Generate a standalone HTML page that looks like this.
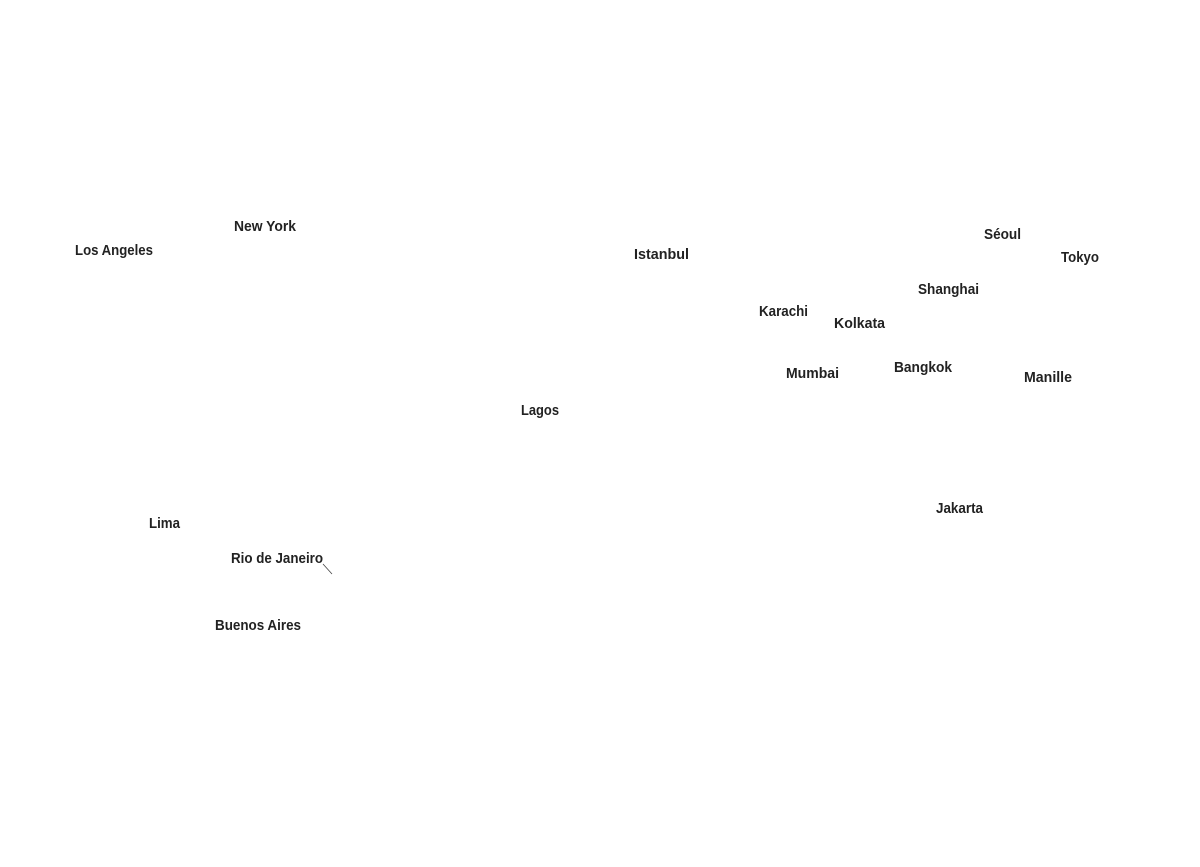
<!DOCTYPE html>
<html><head><meta charset="utf-8"><style>
html,body{margin:0;padding:0;background:#fff;}
svg{display:block;}
text{font-family:"Liberation Sans",sans-serif;font-weight:bold;font-size:15px;fill:#222;}
</style></head><body>
<svg width="1200" height="867" viewBox="0 0 1200 867" xmlns="http://www.w3.org/2000/svg">
<text x="234" y="231" textLength="62" lengthAdjust="spacingAndGlyphs">New York</text>
<text x="75" y="255" textLength="78" lengthAdjust="spacingAndGlyphs">Los Angeles</text>
<text x="634" y="259" textLength="55" lengthAdjust="spacingAndGlyphs">Istanbul</text>
<text x="984" y="239" textLength="37" lengthAdjust="spacingAndGlyphs">Séoul</text>
<text x="1061" y="262" textLength="38" lengthAdjust="spacingAndGlyphs">Tokyo</text>
<text x="918" y="294" textLength="61" lengthAdjust="spacingAndGlyphs">Shanghai</text>
<text x="759" y="316" textLength="49" lengthAdjust="spacingAndGlyphs">Karachi</text>
<text x="834" y="328" textLength="51" lengthAdjust="spacingAndGlyphs">Kolkata</text>
<text x="786" y="378" textLength="53" lengthAdjust="spacingAndGlyphs">Mumbai</text>
<text x="894" y="372" textLength="58" lengthAdjust="spacingAndGlyphs">Bangkok</text>
<text x="1024" y="382" textLength="48" lengthAdjust="spacingAndGlyphs">Manille</text>
<text x="521" y="415" textLength="38" lengthAdjust="spacingAndGlyphs">Lagos</text>
<text x="936" y="513" textLength="47" lengthAdjust="spacingAndGlyphs">Jakarta</text>
<text x="149" y="528" textLength="31" lengthAdjust="spacingAndGlyphs">Lima</text>
<text x="231" y="563" textLength="92" lengthAdjust="spacingAndGlyphs">Rio de Janeiro</text>
<text x="215" y="630" textLength="86" lengthAdjust="spacingAndGlyphs">Buenos Aires</text>
<line x1="323" y1="564" x2="332" y2="574" stroke="#444" stroke-width="0.8"/>
</svg>
</body></html>
